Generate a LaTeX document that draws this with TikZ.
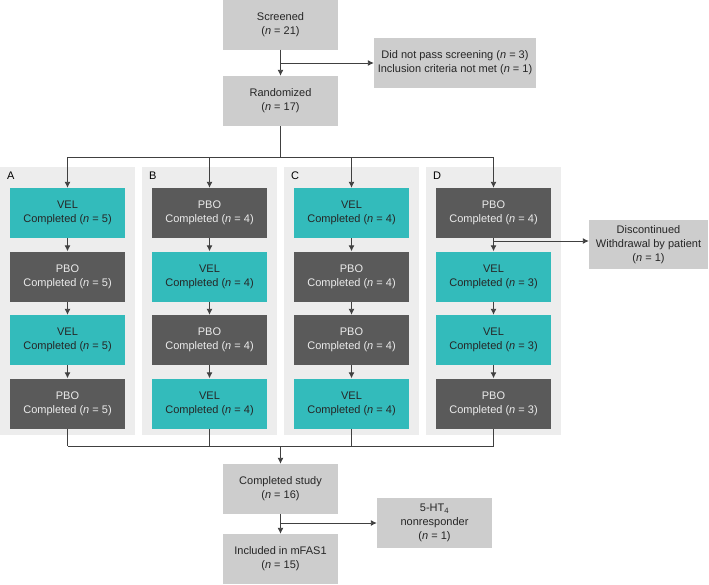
\documentclass[tikz,border=0pt]{standalone}
\usepackage{fontspec}
\setmainfont{Liberation Sans}
\usetikzlibrary{arrows.meta}
\definecolor{boxgrey}{HTML}{CDCDCD}
\definecolor{panelgrey}{HTML}{EDEDED}
\definecolor{velteal}{HTML}{33BBBB}
\definecolor{pbodark}{HTML}{5A5A5A}
\definecolor{linegrey}{HTML}{404040}
\begin{document}
\begin{tikzpicture}[x=1pt, y=-1pt,
    box/.style={minimum width=115pt, minimum height=50pt, inner sep=0pt, align=center, font=\fontsize{11}{14}\selectfont},
    grey/.style={box, fill=boxgrey, text=black!85},
    vel/.style={box, fill=velteal, text=black!85},
    pbo/.style={box, fill=pbodark, text=white!92!black},
    panel/.style={fill=panelgrey, minimum width=135pt, minimum height=268pt, inner sep=0pt},
    tag/.style={anchor=west, inner sep=0pt, font=\fontsize{11}{13}\selectfont},
    line/.style={draw=linegrey, line width=0.9pt},
    arr/.style={line, -{Latex[length=6pt,width=6pt]}}]
        \useasboundingbox (0,0) rectangle (709,584);
        \node[panel] (pA) at (67.5,301) {};
        \node[panel] (pB) at (209.5,301) {};
        \node[panel] (pC) at (351.5,301) {};
        \node[panel] (pD) at (493.5,301) {};
        \node[tag] (tA) at (7,176) {A};
        \node[tag] (tB) at (149,176) {B};
        \node[tag] (tC) at (291,176) {C};
        \node[tag] (tD) at (433,176) {D};
        \node[grey] (scr) at (280.5,24.5) {Screened\\(\textit{n} = 21)};
        \node[grey] (rand) at (280.5,101) {Randomized\\(\textit{n} = 17)};
        \node[grey, minimum width=162pt] (excl) at (455,63) {Did not pass screening (\textit{n} = 3)\\Inclusion criteria not met (\textit{n} = 1)};
        \node[vel] (A1) at (67.5,213) {VEL\\Completed (\textit{n} = 5)};
        \node[pbo] (A2) at (67.5,276.5) {PBO\\Completed (\textit{n} = 5)};
        \node[vel] (A3) at (67.5,340) {VEL\\Completed (\textit{n} = 5)};
        \node[pbo] (A4) at (67.5,403.5) {PBO\\Completed (\textit{n} = 5)};
        \node[pbo] (B1) at (209.5,213) {PBO\\Completed (\textit{n} = 4)};
        \node[vel] (B2) at (209.5,276.5) {VEL\\Completed (\textit{n} = 4)};
        \node[pbo] (B3) at (209.5,340) {PBO\\Completed (\textit{n} = 4)};
        \node[vel] (B4) at (209.5,403.5) {VEL\\Completed (\textit{n} = 4)};
        \node[vel] (C1) at (351.5,213) {VEL\\Completed (\textit{n} = 4)};
        \node[pbo] (C2) at (351.5,276.5) {PBO\\Completed (\textit{n} = 4)};
        \node[pbo] (C3) at (351.5,340) {PBO\\Completed (\textit{n} = 4)};
        \node[vel] (C4) at (351.5,403.5) {VEL\\Completed (\textit{n} = 4)};
        \node[pbo] (D1) at (493.5,213) {PBO\\Completed (\textit{n} = 4)};
        \node[vel] (D2) at (493.5,276.5) {VEL\\Completed (\textit{n} = 3)};
        \node[vel] (D3) at (493.5,340) {VEL\\Completed (\textit{n} = 3)};
        \node[pbo] (D4) at (493.5,403.5) {PBO\\Completed (\textit{n} = 3)};
        \node[grey, minimum width=119pt, minimum height=49pt] (disc) at (648.5,244.5) {Discontinued\\Withdrawal by patient\\(\textit{n} = 1)};
        \node[grey] (done) at (280.5,489) {Completed study\\(\textit{n} = 16)};
        \node[grey] (incl) at (280.5,559) {Included in mFAS1\\(\textit{n} = 15)};
        \node[grey] (nonr) at (434.5,523) {5-HT\textsubscript{4}\\nonresponder\\(\textit{n} = 1)};
        \coordinate (split) at (280.5,157);
        \coordinate (join) at (280.5,446);
        \coordinate (dsplit) at (493.5,241);
        \draw[arr] (scr) -- (rand);
        \draw[arr] (scr.south |- excl.west) -- (excl.west);
        \draw[line] (rand.south) -- (split);
        \draw[line] (A1 |- split) -- (D1 |- split);
        \draw[arr] (A1 |- split) -- (A1.north);
        \draw[arr] (B1 |- split) -- (B1.north);
        \draw[arr] (C1 |- split) -- (C1.north);
        \draw[arr] (D1 |- split) -- (D1.north);
        \draw[arr] (A1) -- (A2);
        \draw[arr] (A2) -- (A3);
        \draw[arr] (A3) -- (A4);
        \draw[arr] (B1) -- (B2);
        \draw[arr] (B2) -- (B3);
        \draw[arr] (B3) -- (B4);
        \draw[arr] (C1) -- (C2);
        \draw[arr] (C2) -- (C3);
        \draw[arr] (C3) -- (C4);
        \draw[arr] (D1) -- (D2);
        \draw[arr] (D2) -- (D3);
        \draw[arr] (D3) -- (D4);
        \draw[arr] (dsplit) -- (dsplit -| disc.west);
        \draw[line] (A4.south) -- (A4 |- join);
        \draw[line] (B4.south) -- (B4 |- join);
        \draw[line] (C4.south) -- (C4 |- join);
        \draw[line] (D4.south) -- (D4 |- join);
        \draw[line] (A4 |- join) -- (D4 |- join);
        \draw[arr] (join) -- (done);
        \draw[arr] (done) -- (incl);
        \draw[arr] (done.south |- nonr.west) -- (nonr.west);
\end{tikzpicture}
\end{document}
